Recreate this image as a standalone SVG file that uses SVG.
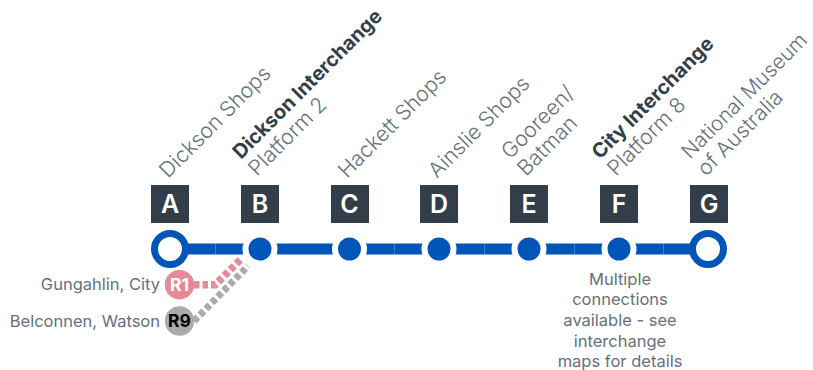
<svg xmlns="http://www.w3.org/2000/svg" width="813" height="370" viewBox="0 0 813 370">
<style>
text{font-family:Inter,"Liberation Sans",sans-serif}
.box{fill:#323f4a}
.let{fill:#fff;font-size:25px;font-weight:600;text-anchor:middle}
.st{fill:#66717b;font-size:21.2px;font-weight:300}
.b{fill:#323f4a;font-size:20px;font-weight:700}
.lab{fill:#66717b;font-size:16.5px;font-weight:400}
.end{fill:#fff;stroke:#0055b8;stroke-width:7}
.dot{fill:#0055b8;stroke:#fff;stroke-width:6}
.ln{stroke:#0055b8;stroke-width:11;fill:none}
</style>
<g id="connectors">
<path class="ln" d="M170 249H215.5"/><path class="ln" d="M215.5 249H305"/><path class="ln" d="M305 249H394.5"/><path class="ln" d="M394.5 249H484.5"/><path class="ln" d="M484.5 249H574.5"/><path class="ln" d="M574.5 249H663.5"/><path class="ln" d="M663.5 249H708"/>
<path d="M194 321L248 266" stroke="#ababab" stroke-width="7" stroke-dasharray="5.5 3" fill="none"/>
<path d="M194 284.7H215.3L241.5 258.5" stroke="#e68a98" stroke-width="7.5" stroke-dasharray="5.5 3" fill="none"/>
</g>
<g id="A"><rect class="box" x="151" y="185" width="38" height="38"/><text class="let" x="170" y="213">A</text><circle class="end" cx="170" cy="249" r="15.5"/><text class="st" transform="translate(168 179) rotate(-45)">Dickson Shops</text></g>
<g id="B"><rect class="box" x="241" y="185" width="38" height="38"/><text class="let" x="260" y="213">B</text><circle class="dot" cx="260" cy="249" r="14.5"/><text class="b" transform="translate(241 160) rotate(-45)">Dickson Interchange</text><text class="st" transform="translate(257 177) rotate(-45)">Platform 2</text></g>
<g id="C"><rect class="box" x="331" y="185" width="38" height="38"/><text class="let" x="349.5" y="213">C</text><circle class="dot" cx="349.5" cy="249" r="14.5"/><text class="st" transform="translate(347 179) rotate(-45)">Hackett Shops</text></g>
<g id="D"><rect class="box" x="420" y="185" width="38" height="38"/><text class="let" x="439" y="213">D</text><circle class="dot" cx="439" cy="249" r="14.5"/><text class="st" transform="translate(437 179) rotate(-45)">Ainslie Shops</text></g>
<g id="E"><rect class="box" x="510" y="185" width="38" height="38"/><text class="let" x="529" y="213">E</text><circle class="dot" cx="529" cy="249" r="14.5"/><text class="st" transform="translate(510 160) rotate(-45)">Gooreen/</text><text class="st" transform="translate(526 177) rotate(-45)">Batman</text></g>
<g id="F"><rect class="box" x="600" y="185" width="38" height="38"/><text class="let" x="619" y="213">F</text><circle class="dot" cx="619" cy="249" r="14.5"/><text class="b" transform="translate(600 160) rotate(-45)">City Interchange</text><text class="st" transform="translate(616 177) rotate(-45)">Platform 8</text></g>
<g id="G"><rect class="box" x="690" y="185" width="38" height="38"/><text class="let" x="709" y="213">G</text><circle class="end" cx="708" cy="249" r="15.5"/><text class="st" style="font-size:20.6px" transform="translate(690 160) rotate(-45)">National Museum</text><text class="st" transform="translate(706 177) rotate(-45)">of Australia</text></g>
<g id="note"><text class="lab" text-anchor="middle"><tspan x="620" y="284.5">Multiple</tspan><tspan x="620" y="305">connections</tspan><tspan x="620" y="325.7">available - see</tspan><tspan x="620" y="346.5">interchange</tspan><tspan x="620" y="366.7">maps for details</tspan></text></g>
<g id="R1"><circle cx="179.5" cy="284.7" r="14.7" fill="#e68a98"/><text x="179.5" y="291" text-anchor="middle" fill="#fff" font-size="17.5" font-weight="700">R1</text><text class="lab" x="160" y="290" text-anchor="end">Gungahlin, City</text></g>
<g id="R9"><circle cx="179.5" cy="321" r="14.7" fill="#ababab"/><text x="179.5" y="327" text-anchor="middle" fill="#000" font-size="17.5" font-weight="700">R9</text><text class="lab" x="160" y="327" text-anchor="end">Belconnen, Watson</text></g>
</svg>
